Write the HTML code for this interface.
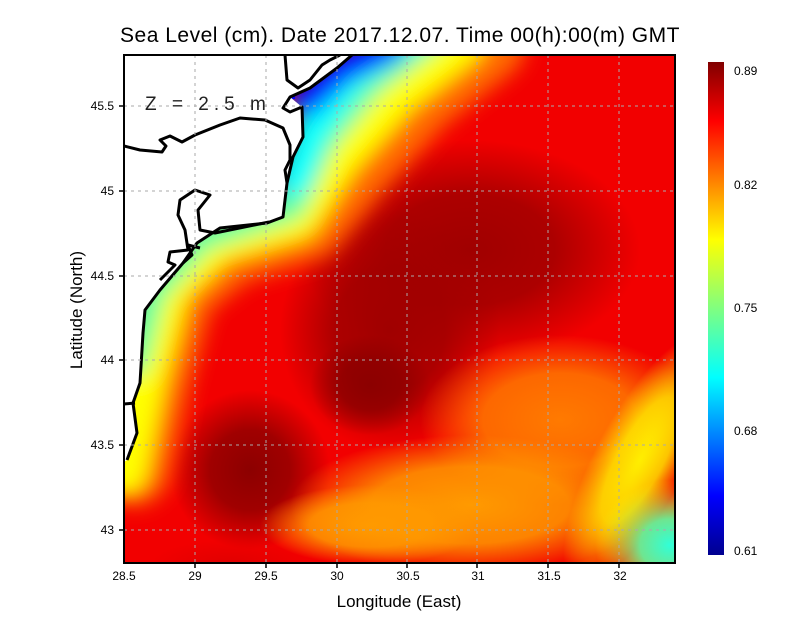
<!DOCTYPE html>
<html><head><style>
body{margin:0;background:#fff;}
svg{display:block;font-family:"Liberation Sans",sans-serif;}
</style></head><body>
<svg width="800" height="618" viewBox="0 0 800 618">
<defs>
<clipPath id="pc"><rect x="124" y="55" width="551" height="508"/></clipPath>
<filter id="b2" filterUnits="userSpaceOnUse" x="0" y="0" width="800" height="618"><feGaussianBlur stdDeviation="10"/></filter>
<radialGradient id="gdr"><stop offset="0" stop-color="#a00000"/><stop offset="0.5" stop-color="#a00000" stop-opacity="0.85"/><stop offset="1" stop-color="#a00000" stop-opacity="0"/></radialGradient>
<radialGradient id="gdd"><stop offset="0" stop-color="#8c0000"/><stop offset="0.5" stop-color="#8c0000" stop-opacity="0.8"/><stop offset="1" stop-color="#8c0000" stop-opacity="0"/></radialGradient>
<radialGradient id="gor"><stop offset="0" stop-color="#ff7a00"/><stop offset="0.55" stop-color="#ff7a00" stop-opacity="0.85"/><stop offset="1" stop-color="#ff7a00" stop-opacity="0"/></radialGradient>
<radialGradient id="go2"><stop offset="0" stop-color="#ff9a00"/><stop offset="0.55" stop-color="#ff9a00" stop-opacity="0.85"/><stop offset="1" stop-color="#ff9a00" stop-opacity="0"/></radialGradient>
<radialGradient id="gye"><stop offset="0" stop-color="#ffee00"/><stop offset="0.5" stop-color="#ffee00" stop-opacity="0.8"/><stop offset="1" stop-color="#ffee00" stop-opacity="0"/></radialGradient>
<radialGradient id="gcy"><stop offset="0" stop-color="#30ffd8"/><stop offset="0.4" stop-color="#60ffa0" stop-opacity="0.9"/><stop offset="1" stop-color="#ffff00" stop-opacity="0"/></radialGradient>
<radialGradient id="gre"><stop offset="0" stop-color="#e00000"/><stop offset="1" stop-color="#e00000" stop-opacity="0"/></radialGradient>
<linearGradient id="cb" x1="0" y1="1" x2="0" y2="0">
<stop offset="0" stop-color="#00008f"/>
<stop offset="0.12" stop-color="#0000ff"/>
<stop offset="0.36" stop-color="#00ffff"/>
<stop offset="0.5" stop-color="#80ff80"/>
<stop offset="0.64" stop-color="#ffff00"/>
<stop offset="0.76" stop-color="#ff8000"/>
<stop offset="0.88" stop-color="#ff0000"/>
<stop offset="1" stop-color="#800000"/>
</linearGradient>
</defs>
<text x="400" y="42" font-size="21" text-anchor="middle" fill="#000" letter-spacing="0.5">Sea Level (cm). Date 2017.12.07. Time 00(h):00(m) GMT</text>
<g clip-path="url(#pc)">
<rect x="124" y="55" width="551" height="508" fill="#f20000"/>
<ellipse cx="470" cy="250" rx="170" ry="110" fill="url(#gdr)"/>
<ellipse cx="390" cy="330" rx="110" ry="120" fill="url(#gdr)"/>
<ellipse cx="250" cy="470" rx="80" ry="80" fill="url(#gdd)"/>
<ellipse cx="370" cy="385" rx="60" ry="50" fill="url(#gdd)"/>
<ellipse cx="560" cy="420" rx="140" ry="85" fill="url(#gor)"/>
<ellipse cx="470" cy="505" rx="180" ry="70" fill="url(#go2)"/>
<ellipse cx="370" cy="525" rx="110" ry="40" fill="url(#go2)"/>
<ellipse cx="640" cy="460" rx="45" ry="140" transform="rotate(28 640 460)" fill="url(#gye)"/>
<ellipse cx="670" cy="545" rx="75" ry="65" fill="url(#gcy)"/>
<ellipse cx="230" cy="565" rx="80" ry="25" fill="url(#gre)"/>
<g filter="url(#b2)" fill="none" stroke-linejoin="round" stroke-linecap="round">
<polyline points="490,45 420,100 355,170 310,225 230,250 180,290 155,380 135,470" stroke="#ff6a00" stroke-width="70"/>
<polyline points="460,40 395,90 335,155 295,215 215,238 165,285 140,380 122,470" stroke="#ffff00" stroke-width="50"/>
<polyline points="430,35 370,80 320,140 290,205 200,235 150,290 132,360" stroke="#60ffa0" stroke-width="32"/>
<polyline points="410,35 350,75 310,130 292,180" stroke="#00ffff" stroke-width="34"/>
<polyline points="390,45 340,68 305,100" stroke="#0000ff" stroke-width="32"/>
</g>
<rect x="283" y="77" width="12" height="22" fill="#0000ff"/>
<path d="M124,55 L352,55 L337,68 L310,88 L290,97 L302,107 L303,137 L293,157 L287,183 L283,217 L267,223 L220,228 L197,243 L183,263 L160,290 L145,310 L143,333 L140,383 L133,403 L137,433 L127,460 L124,462 Z" fill="#fff"/>
<g fill="none" stroke="#000" stroke-width="3" stroke-linejoin="round">
<path d="M352,55 L337,68 L310,88 L290,97 L283,108 L290,112 L302,107 L303,137 L293,157 L287,183 L283,217 L267,223 L220,228 L197,243 L183,263 L160,290 L145,310 L143,333 L140,383 L133,403 L137,433 L127,460"/>
<path d="M124,146 L140,150 L162,152 L166,146 L160,140 L170,136 L182,142 L195,135 L220,125 L240,118 L265,120 L283,128 L290,145 L290,160 L285,170 L287,183"/>
<path d="M269,222 L215,233 L200,230 L198,210 L210,195 L195,190 L180,200 L178,215 L185,230 L188,250 L170,252 L168,262 L175,265 L160,280"/>
<path d="M183,263 L192,255 L188,245 L200,248"/>
<path d="M124,404 L135,403"/>
<path d="M285,55 L287,80 L298,88 L310,80 L322,65 L330,60 L340,55"/>
</g>
<g stroke="#aaa" stroke-width="1" stroke-dasharray="3,4">
<line x1="195" y1="55" x2="195" y2="563"/><line x1="266" y1="55" x2="266" y2="563"/>
<line x1="337" y1="55" x2="337" y2="563"/><line x1="407" y1="55" x2="407" y2="563"/>
<line x1="477" y1="55" x2="477" y2="563"/><line x1="548" y1="55" x2="548" y2="563"/>
<line x1="619" y1="55" x2="619" y2="563"/>
<line x1="124" y1="106" x2="675" y2="106"/><line x1="124" y1="191" x2="675" y2="191"/>
<line x1="124" y1="276" x2="675" y2="276"/><line x1="124" y1="360" x2="675" y2="360"/>
<line x1="124" y1="445" x2="675" y2="445"/><line x1="124" y1="530" x2="675" y2="530"/>
</g>
</g>
<text x="145" y="110" font-size="19" fill="#222" letter-spacing="5">Z = 2.5 m</text>
<rect x="124" y="55" width="551" height="508" fill="none" stroke="#000" stroke-width="2"/>
<g stroke="#000" stroke-width="1.5">
<line x1="195" y1="563" x2="195" y2="568"/><line x1="266" y1="563" x2="266" y2="568"/><line x1="337" y1="563" x2="337" y2="568"/><line x1="407" y1="563" x2="407" y2="568"/><line x1="477" y1="563" x2="477" y2="568"/><line x1="548" y1="563" x2="548" y2="568"/><line x1="619" y1="563" x2="619" y2="568"/>
<line x1="119" y1="106" x2="124" y2="106"/><line x1="119" y1="191" x2="124" y2="191"/><line x1="119" y1="276" x2="124" y2="276"/><line x1="119" y1="360" x2="124" y2="360"/><line x1="119" y1="445" x2="124" y2="445"/><line x1="119" y1="530" x2="124" y2="530"/>
</g>
<g font-size="12" fill="#000" text-anchor="middle">
<text x="124" y="580">28.5</text><text x="195" y="580">29</text><text x="266" y="580">29.5</text><text x="337" y="580">30</text><text x="408" y="580">30.5</text><text x="478" y="580">31</text><text x="549" y="580">31.5</text><text x="620" y="580">32</text>
</g>
<g font-size="12" fill="#000" text-anchor="end">
<text x="114" y="110">45.5</text><text x="114" y="195">45</text><text x="114" y="280">44.5</text><text x="114" y="364">44</text><text x="114" y="449">43.5</text><text x="114" y="534">43</text>
</g>
<text x="399" y="607" font-size="17" text-anchor="middle">Longitude (East)</text>
<text transform="translate(82,310) rotate(-90)" font-size="17" text-anchor="middle">Latitude (North)</text>
<rect x="708" y="62" width="16" height="493" fill="url(#cb)"/>
<g font-size="12" fill="#000">
<text x="734" y="75">0.89</text><text x="734" y="189">0.82</text><text x="734" y="312">0.75</text><text x="734" y="435">0.68</text><text x="734" y="555">0.61</text>
</g>
</svg>
</body></html>
